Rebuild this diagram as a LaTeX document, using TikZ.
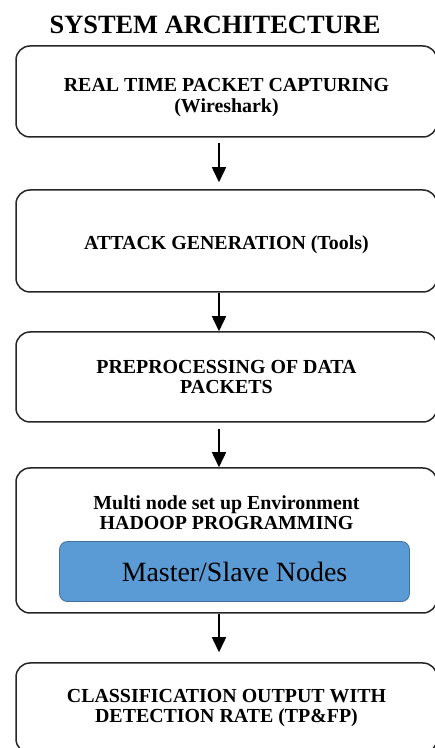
\documentclass[tikz,border=0pt]{standalone}
\usepackage{fontspec}
\setmainfont{Liberation Serif}
\newfontfamily\timesfont{Liberation Serif}
\usetikzlibrary{positioning,arrows.meta}
\definecolor{nodeblue}{HTML}{5B9BD5}
\definecolor{nodeedge}{HTML}{41719C}

\begin{document}
\begin{tikzpicture}[
    x=1pt, y=1pt,
    stage/.style={rectangle, draw=black!85, line width=1.5pt, fill=white, rounded corners=14pt, minimum width=421pt, align=center, inner sep=0pt, font=\timesfont\fontsize{19.9}{20.5}\selectfont\bfseries},
    nodesbox/.style={rectangle, draw=nodeedge, line width=0.8pt, fill=nodeblue, rounded corners=8pt, minimum width=350pt, minimum height=60pt, font=\timesfont\fontsize{27.9}{30}\selectfont},
    arrow/.style={-{Triangle[width=14pt,length=15pt]}, line width=1.5pt},
    heading/.style={font=\timesfont\fontsize{26.4}{28}\selectfont\bfseries}
]
\useasboundingbox (0,0) rectangle (435,748);
\clip (0,0) rectangle (435,748);

% Title
\node[heading, anchor=base] (title) at (215,714) {SYSTEM ARCHITECTURE};

% Stages
\node[stage, minimum height=91pt] (capture) at (226.5,656.5) {\rule{0pt}{25pt}REAL TIME PACKET CAPTURING\\(Wireshark)};
\node[stage, minimum height=102pt, below=51.5pt of capture] (attack) {\rule{0pt}{22pt}ATTACK GENERATION (Tools)};
\node[stage, minimum height=90pt, below=38.5pt of attack] (prep) {PREPROCESSING OF DATA\\PACKETS};
\node[stage, minimum height=145pt, below=44.5pt of prep] (hadoop) {};
\node[stage, minimum height=90pt, below=48.5pt of hadoop] (classify) {CLASSIFICATION OUTPUT WITH\\DETECTION RATE (TP\&FP)};

% Hadoop block contents
\node[align=center, inner sep=0pt, font=\timesfont\fontsize{19.9}{20.5}\selectfont\bfseries, below=28pt of hadoop.north] (hadooplbl) {Multi node set up Environment\\HADOOP PROGRAMMING};
\node[nodesbox, below=11pt of hadooplbl, xshift=8pt] (cluster) {Master/Slave Nodes};

% Arrow axis
\coordinate (axis) at (219,0);

% Flow arrows
\draw[arrow, shorten <=5pt, shorten >=7pt] (capture.south -| axis) -- (attack.north -| axis);
\draw[arrow] (attack.south -| axis) -- (prep.north -| axis);
\draw[arrow, shorten <=6pt] (prep.south -| axis) -- (hadoop.north -| axis);
\draw[arrow, shorten >=10pt] (hadoop.south -| axis) -- (classify.north -| axis);

\end{tikzpicture}
\end{document}
